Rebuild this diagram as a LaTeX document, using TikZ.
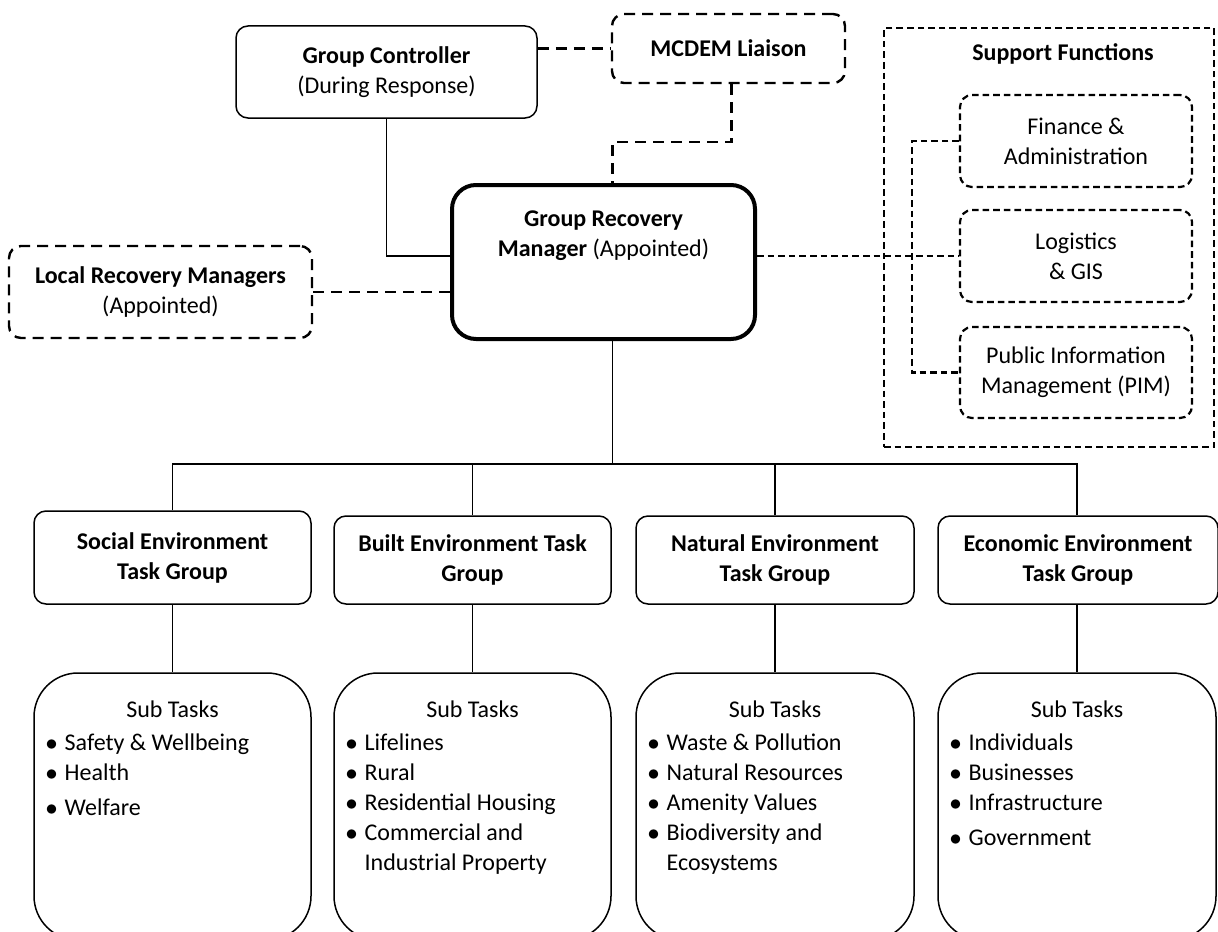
\documentclass[tikz,border=0pt]{standalone}
\usepackage{fontspec}
\setmainfont{Carlito}
\usetikzlibrary{calc}

\tikzset{
  box/.style={draw,line width=0.75pt,rounded corners=6pt,align=center,inner sep=0pt},
  tgbox/.style={box,minimum height=44pt},
  subbox/.style={draw,line width=0.75pt,rounded corners=22pt,inner sep=0pt,minimum height=133.5pt},
  longdash/.style={line width=1.2pt,dash pattern=on 5.5pt off 3.5pt},
  shortdash/.style={line width=1.1pt,dash pattern=on 3.3pt off 2pt},
  conn/.style={line width=0.75pt},
  sublist/.style={anchor=base west,inner sep=0pt,align=left}
}
\newcommand{\subitems}[1]{\begin{tabular}[t]{@{}p{9.5pt}@{}l@{}}#1\end{tabular}}
\newcommand{\blt}{$\bullet$}

\begin{document}
\begin{tikzpicture}[x=0.5pt,y=-0.5pt,font=\fontsize{12}{15}\selectfont]
\useasboundingbox (0,0) rectangle (1218,931);

% top level
\node[box,minimum width=150.5pt,minimum height=46pt] (gc) at (386.5,72) {\textbf{Group Controller}\\(During Response)};
\node[box,longdash,minimum width=116.5pt,minimum height=34.5pt] (mcdem) at (728.5,48.5) {\textbf{MCDEM Liaison}};
\node[box,line width=2pt,rounded corners=12pt,minimum width=151.5pt,minimum height=77pt] (grm) at (603.5,262) {};
\node[align=center,inner sep=0pt] (grmlabel) at (603.5,236) {\textbf{Group Recovery}\\\textbf{Manager} (Appointed)};
\node[box,longdash,minimum width=151.5pt,minimum height=46pt] (lrm) at (160.5,292) {\textbf{Local Recovery Managers}\\(Appointed)};

% support functions
\node[draw,shortdash,inner sep=0pt,minimum width=165pt,minimum height=209.5pt] (sup) at (1049,237.5) {};
\node (suptitle) at (1063,54) {\textbf{Support Functions}};
\node[box,shortdash,minimum width=116pt,minimum height=46pt] (fin) at (1076,141) {Finance \&\\Administration};
\node[box,shortdash,minimum width=116pt,minimum height=46pt] (log) at (1076,256) {Logistics\\\& GIS};
\node[box,shortdash,minimum width=116pt,minimum height=45.5pt] (pim) at (1076,372.5) {Public Information\\Management (PIM)};

% task groups
\node[tgbox,minimum width=138.5pt,minimum height=46.5pt] (soc) at (172.5,557.5) {\textbf{Social Environment}\\\textbf{Task Group}};
\node[tgbox,minimum width=138.5pt] (built) at (472.5,560) {\textbf{Built Environment Task}\\\textbf{Group}};
\node[tgbox,minimum width=139pt] (nat) at (775,560) {\textbf{Natural Environment}\\\textbf{Task Group}};
\node[tgbox,minimum width=140pt] (eco) at (1078,560) {\textbf{Economic Environment}\\\textbf{Task Group}};

% sub tasks
\node[subbox,minimum width=138.5pt] (soc-sub) at (172.5,806.5) {};
\node[subbox,minimum width=138.5pt] (built-sub) at (472.5,806.5) {};
\node[subbox,minimum width=139pt] (nat-sub) at (775,806.5) {};
\node[subbox,minimum width=139pt] (eco-sub) at (1077,806.5) {};

\foreach \g in {soc,built,nat,eco}{
  \node (\g-title) at ($(\g-sub.north)+(0,37)$) {Sub Tasks};
  \draw[conn] (\g-sub.north |- \g.south) -- (\g-sub.north);
}

\node[sublist] (soc-list) at ($(soc-sub.north west |- 0,750)+(12,0)$)
  {\subitems{\blt&Safety \& Wellbeing\\ \blt&Health\\[2.5pt] \blt&Welfare}};
\node[sublist] (built-list) at ($(built-sub.north west |- 0,750)+(12,0)$)
  {\subitems{\blt&Lifelines\\ \blt&Rural\\ \blt&Residential Housing\\ \blt&Commercial and\\ &Industrial Property}};
\node[sublist] (nat-list) at ($(nat-sub.north west |- 0,750)+(12,0)$)
  {\subitems{\blt&Waste \& Pollution\\ \blt&Natural Resources\\ \blt&Amenity Values\\ \blt&Biodiversity and\\ &Ecosystems}};
\node[sublist] (eco-list) at ($(eco-sub.north west |- 0,750)+(12,0)$)
  {\subitems{\blt&Individuals\\ \blt&Businesses\\ \blt&Infrastructure\\[2.5pt] \blt&Government}};

% connectors
\draw[longdash] (gc.east |- mcdem.west) -- (mcdem.west);
\draw[conn] (gc.south) |- (grm.west |- log.west);
\draw[longdash] (lrm.east) -- (lrm.east -| grm.west);
\draw[longdash] ([xshift=1.5pt]mcdem.south) -- ++(0,58) -| ([xshift=4.5pt]grm.north);
\draw[shortdash] (grm.east |- log.west) -- (log.west);
\draw[shortdash] (fin.west) -- ++(-47,0) |- (pim.west);

\coordinate (bus) at ([xshift=4.5pt]grm.south |- 0,464);
\draw[conn] ([xshift=4.5pt]grm.south) -- (bus);
\draw[conn] (soc.north) |- (bus) -| (eco-sub.north |- eco.north);
\draw[conn] (built.north) -- (built.north |- bus);
\draw[conn] (nat.north) -- (nat.north |- bus);

\end{tikzpicture}
\end{document}
